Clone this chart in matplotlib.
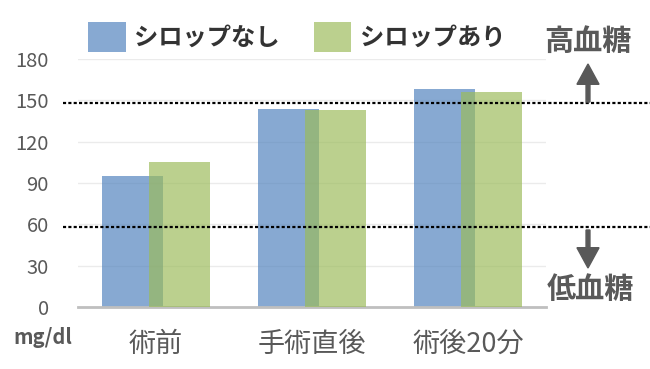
import numpy as np
import matplotlib
matplotlib.use("Agg")
import matplotlib.pyplot as plt
from matplotlib.patches import Patch

plt.rcParams['font.family'] = ['Noto Sans CJK JP', 'DejaVu Sans']

categories = ['術前', '手術直後', '術後20分']
no_syrup = [95, 144, 158]
with_syrup = [105, 143, 156]
series_names = ['シロップなし', 'シロップあり']
high_line = 148
low_line = 58
yticks = [0, 30, 60, 90, 120, 150, 180]

blue = '#4F81BD'
green = '#9BBB59'
gray = '#595959'

fig = plt.figure(figsize=(6.5, 3.69), dpi=100)
ax = fig.add_axes([0.12, 0.168, 0.72, 0.672])

x = np.arange(len(categories))
w = 0.39
ax.bar(x - 0.148, no_syrup, w, color=blue, alpha=0.68, zorder=2)
ax.bar(x + 0.148, with_syrup, w, color=green, alpha=0.68, zorder=3)

ax.set_xlim(-0.5, len(categories) - 0.5)
ax.set_ylim(0, 180)
ax.set_yticks(yticks)
ax.set_xticks(x)
ax.set_xticklabels(categories, fontsize=19.5, color=gray)
ax.tick_params(axis='x', length=0, pad=17)
ax.tick_params(axis='y', length=0, pad=21, labelsize=14.5, labelcolor=gray)
ax.grid(axis='y', color='#EBEBEB', linewidth=1, zorder=0)
for s in ['left', 'right', 'top']:
    ax.spines[s].set_visible(False)
ax.spines['bottom'].set_color('#BFBFBF')
ax.spines['bottom'].set_linewidth(2)

# threshold lines
for yv in [high_line, low_line]:
    ax.axhline(yv, xmin=-0.032, xmax=1.25, color='black', lw=1.6,
               linestyle=(0, (1.4, 1.0)), clip_on=False, zorder=4)

# arrows and labels
fig.patches.append(matplotlib.patches.FancyArrow(
    588 / 650, 1 - 102 / 369, 0, (102 - 64) / 369, width=0.006,
    head_width=0.034, head_length=0.055, length_includes_head=True,
    color=gray, transform=fig.transFigure, figure=fig))
fig.patches.append(matplotlib.patches.FancyArrow(
    588 / 650, 1 - 230 / 369, 0, -(268 - 230) / 369, width=0.006,
    head_width=0.034, head_length=0.055, length_includes_head=True,
    color=gray, transform=fig.transFigure, figure=fig))
fig.text(588 / 650, 1 - 41 / 369, '高血糖', ha='center', va='center',
         fontsize=21, fontweight='bold', color=gray)
fig.text(590 / 650, 1 - 289 / 369, '低血糖', ha='center', va='center',
         fontsize=21, fontweight='bold', color=gray)
fig.text(43 / 650, 1 - 338 / 369, 'mg/dl', ha='center', va='center',
         fontsize=14.5, fontweight='bold', color=gray)

handles = [Patch(facecolor=blue, alpha=0.68), Patch(facecolor=green, alpha=0.68)]
fig.legend(handles, series_names, loc='center left', ncol=2,
           bbox_to_anchor=(88 / 650, 1 - 37 / 369), frameon=False,
           handlelength=1.55, handleheight=1.55, handletextpad=0.35,
           columnspacing=1.4, borderaxespad=0, borderpad=0,
           prop={'size': 17.5, 'weight': 'bold'}, labelcolor='#333333')

fig.savefig('out.png', dpi=100)
